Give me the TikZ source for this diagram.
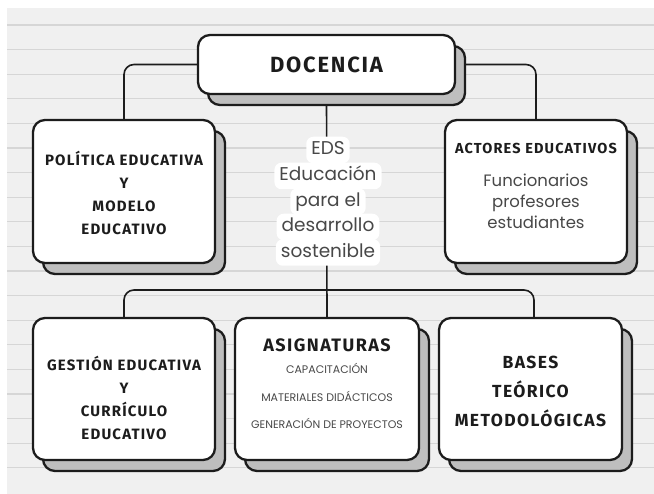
\documentclass[tikz,border=0pt]{standalone}
\usepackage{fontspec}
\setmainfont{Poppins}
\newfontfamily\headfont{Fira Sans}[LetterSpace=8]
\usetikzlibrary{shadows,backgrounds}
\definecolor{paper}{RGB}{240,240,240}
\definecolor{paperline}{RGB}{214,214,214}
\definecolor{ink}{RGB}{28,28,28}
\definecolor{softink}{RGB}{72,72,72}
\definecolor{shade}{RGB}{190,190,190}

\begin{document}
\begin{tikzpicture}[x=1pt, y=-1pt,
  box/.style={draw=ink, line width=2.3pt, fill=white, rounded corners=12pt,
    copy shadow={shadow xshift=10pt, shadow yshift=-11pt, fill=shade, draw=ink, line width=2.3pt}},
  head/.style={align=center, text=ink, font=\headfont\bfseries\fontsize{#1}{23.3}\selectfont},
  body/.style={align=center, text=softink, font=\fontsize{#1}{21}\selectfont},
  conn/.style={draw=ink, line width=1.6pt, rounded corners=10pt},
  eds/.style={fill=white, rounded corners=7pt, text=softink, font=\fontsize{18.5}{20}\selectfont,
    inner xsep=5pt, inner ysep=4.5pt, text height=13.5pt, text depth=4pt}]
\useasboundingbox (0,0) rectangle (654,494);

%%%%% Boxes %%%%%
\node[box, minimum width=257pt, minimum height=59pt] (doc) at (326.5,64.5) {};
\node[box, minimum width=182pt, minimum height=143pt] (pol) at (124,191.5) {};
\node[box, minimum width=182pt, minimum height=143pt] (act) at (536,191.5) {};
\node[box, minimum width=182pt, minimum height=142pt] (ges) at (124,389) {};
\node[box, minimum width=184pt, minimum height=142pt] (asi) at (327,389) {};
\node[box, minimum width=183pt, minimum height=142pt] (bas) at (530.5,389) {};

%%%%% Texts %%%%%
\node[head=22] (docT) at (doc) {DOCENCIA};
\node[head=15] (polT) at (124,193) {POLÍTICA EDUCATIVA\\Y\\MODELO\\EDUCATIVO};
\node[head=14.5] (actH) at (536,148) {ACTORES EDUCATIVOS};
\node[body=16.5] (actB) at (536,201) {Funcionarios\\profesores\\estudiantes};
\node[head=15] (gesT) at (124,398) {GESTIÓN EDUCATIVA\\Y\\CURRÍCULO\\EDUCATIVO};
\node[head=18] (asiH) at (327,345) {ASIGNATURAS};
\node[body=11, font=\fontsize{11}{27.5}\selectfont] (asiB) at (327,396) {CAPACITACIÓN\\MATERIALES DIDÁCTICOS\\GENERACIÓN DE PROYECTOS};
\node[head=18, font=\headfont\bfseries\fontsize{17.5}{29}\selectfont] (basT) at (530.5,391) {BASES\\TEÓRICO\\METODOLÓGICAS};

\coordinate (hub) at (327,290);

%%%%% Paper and connectors %%%%%
\begin{scope}[on background layer]
\fill[paper] (7,8) rectangle (654,494);
\foreach \i in {0,...,18}{
\draw[paperline, line width=1.2pt] (7,25+24.6*\i)--(654,25+24.6*\i);
}
\draw[conn] (doc.west) -| (pol.north);
\draw[conn] (doc.east) -| (act.north);
\draw[conn] (doc.south) -- (asi.north);
\draw[conn] (ges.north) |- (hub) -| ([xshift=3.5pt]bas.north);
\end{scope}

%%%%% EDS %%%%%
\node[eds] (eds1) at (328,150) {EDS};
\node[eds] (eds2) at (328,176) {Educación};
\node[eds] (eds3) at (328,201.5) {para el};
\node[eds] (eds4) at (328,227) {desarrollo};
\node[eds] (eds5) at (328,252.5) {sostenible};
\end{tikzpicture}
\end{document}
